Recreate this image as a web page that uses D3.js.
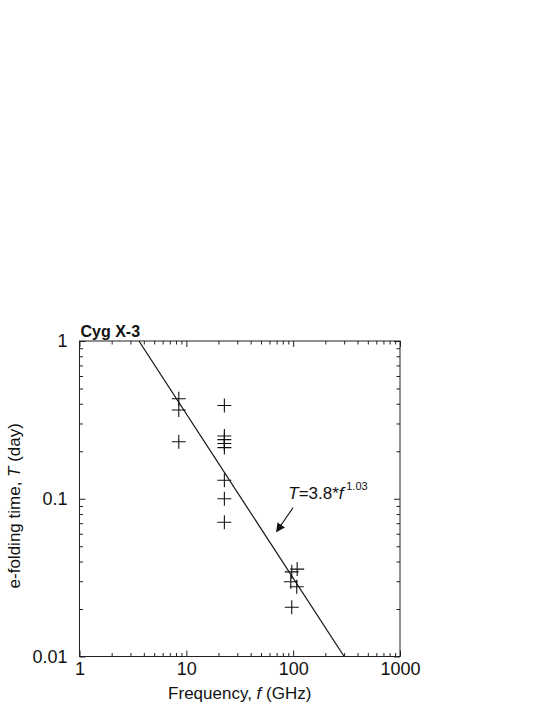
<!DOCTYPE html>
<html>
<head>
<meta charset="utf-8">
<script src="https://cdn.jsdelivr.net/npm/d3@7"></script>
<style>
    body { margin: 0; background: #fff; }
    svg { display: block; font-family: "Liberation Sans", Arial, Helvetica, sans-serif; }
</style>
</head>
<body>
<svg id="chart" width="545" height="705"></svg>
<script>
const freq8 = [8.5, 8.5, 8.5]
const time8 = [0.43, 0.365, 0.23]
const freq22 = [22.7, 22.7, 22.7, 22.7, 22.7, 22.7, 22.7, 22.7]
const time22 = [0.39, 0.25, 0.237, 0.224, 0.211, 0.131, 0.1, 0.071]
const freq100 = [109, 97, 95, 108, 97]
const time100 = [0.0358, 0.0344, 0.0298, 0.0277, 0.0205]

// fitted power law, ends where it leaves the frame
const fitLine = [[3.6, 1], [300, 0.01]]
const fitLabel = { f: 90, t: 0.1 }
const fitArrow = [[100, 0.088], [70, 0.062]]

const xMajor = [1, 10, 100, 1000]
const yMajor = [0.01, 0.1, 1]

const minors = (lo, hi) => {
    const out = []
    for (let d = lo; d < hi; d *= 10)
        for (let k = 2; k <= 9; k++) out.push(d * k)
    return out
}

const svg = d3.select('#chart')
const plotLeft = 79.5, plotRight = 400, plotTop = 341, plotBottom = 656.5

const x = d3.scaleLog().domain([1, 1000]).range([plotLeft, plotRight])
const y = d3.scaleLog().domain([0.01, 1]).range([plotBottom, plotTop])

const points = [
    ...freq8.map((f, i) => [f, time8[i]]),
    ...freq22.map((f, i) => [f, time22[i]]),
    ...freq100.map((f, i) => [f, time100[i]])
]

// axes, ticks pointing inward on all four sides
const addAxis = (axis, transform, cls) =>
    svg.append('g').attr('class', cls).attr('transform', transform).call(axis)
        .call(g => g.select('.domain').remove())

addAxis(d3.axisBottom(x).tickValues(xMajor).tickSize(-6).tickPadding(6).tickFormat(d3.format('d')),
    `translate(0,${plotBottom})`, 'xaxis')
addAxis(d3.axisBottom(x).tickValues(minors(1, 1000)).tickSize(-3.5).tickFormat(''),
    `translate(0,${plotBottom})`, 'minor')
addAxis(d3.axisTop(x).tickValues(xMajor).tickSize(-6).tickFormat(''),
    `translate(0,${plotTop})`, 'major')
addAxis(d3.axisTop(x).tickValues(minors(1, 1000)).tickSize(-3.5).tickFormat(''),
    `translate(0,${plotTop})`, 'minor')
addAxis(d3.axisLeft(y).tickValues(yMajor).tickSize(-6).tickPadding(12).tickFormat(d => String(d)),
    `translate(${plotLeft},0)`, 'yaxis')
addAxis(d3.axisLeft(y).tickValues(minors(0.01, 1)).tickSize(-3.5).tickFormat(''),
    `translate(${plotLeft},0)`, 'minor')
addAxis(d3.axisRight(y).tickValues(yMajor).tickSize(-6).tickFormat(''),
    `translate(${plotRight},0)`, 'major')
addAxis(d3.axisRight(y).tickValues(minors(0.01, 1)).tickSize(-3.5).tickFormat(''),
    `translate(${plotRight},0)`, 'minor')

svg.selectAll('.tick line').attr('stroke', '#222').attr('stroke-width', 1)
svg.selectAll('.xaxis text, .yaxis text')
    .attr('fill', '#111')
    .style('font-size', '18px')
    .style('font-family', '"Liberation Sans", Arial, sans-serif')

// frame
svg.append('rect')
    .attr('x', plotLeft).attr('y', plotTop)
    .attr('width', plotRight - plotLeft).attr('height', plotBottom - plotTop)
    .attr('fill', 'none').attr('stroke', '#222').attr('stroke-width', 1)

// fitted line
svg.append('path')
    .datum(fitLine)
    .attr('fill', 'none')
    .attr('stroke', '#111')
    .attr('stroke-width', 1.2)
    .attr('d', d3.line().x(d => x(d[0])).y(d => y(d[1])))

// crosses
const arm = 7
svg.append('g').selectAll('path').data(points).enter().append('path')
    .attr('fill', 'none')
    .attr('stroke', '#111')
    .attr('stroke-width', 1.1)
    .attr('d', d => {
        const cx = x(d[0]), cy = y(d[1])
        return `M${cx - arm},${cy}H${cx + arm}M${cx},${cy - arm}V${cy + arm}`
    })

// annotation
svg.append('defs').append('marker')
    .attr('id', 'head')
    .attr('viewBox', '0 0 10 10')
    .attr('refX', 9).attr('refY', 5)
    .attr('markerWidth', 9).attr('markerHeight', 9)
    .attr('markerUnits', 'userSpaceOnUse')
    .attr('orient', 'auto')
    .append('path').attr('d', 'M0,0L10,5L0,10z').attr('fill', '#111')

svg.append('line')
    .attr('x1', x(fitArrow[0][0])).attr('y1', y(fitArrow[0][1]))
    .attr('x2', x(fitArrow[1][0])).attr('y2', y(fitArrow[1][1]))
    .attr('stroke', '#111').attr('stroke-width', 1.1)
    .attr('marker-end', 'url(#head)')

const label = svg.append('text')
    .attr('x', x(fitLabel.f)).attr('y', y(fitLabel.t))
    .style('font-size', '17px').attr('fill', '#111')
label.append('tspan').style('font-style', 'italic').text('T')
label.append('tspan').text('=3.8*')
label.append('tspan').style('font-style', 'italic').text('f')
label.append('tspan').attr('dx', -1).attr('dy', -9).style('font-size', '11px').text('-1.03')

// title
svg.append('text')
    .attr('x', plotLeft + 1).attr('y', 337)
    .style('font-size', '16px').style('font-weight', 'bold')
    .attr('fill', '#111')
    .text('Cyg X-3')

// axis titles
const xt = svg.append('text')
    .attr('x', (plotLeft + plotRight) / 2).attr('y', 699)
    .attr('text-anchor', 'middle')
    .style('font-size', '17px').attr('fill', '#111')
xt.append('tspan').text('Frequency, ')
xt.append('tspan').style('font-style', 'italic').text('f')
xt.append('tspan').text(' (GHz)')

const yt = svg.append('text')
    .attr('transform', `translate(20,${(plotTop + plotBottom) / 2 + 7}) rotate(-90)`)
    .attr('text-anchor', 'middle')
    .style('font-size', '17px').attr('fill', '#111')
yt.append('tspan').text('e-folding time, ')
yt.append('tspan').style('font-style', 'italic').text('T')
yt.append('tspan').text(' (day)')
</script>
</body>
</html>
